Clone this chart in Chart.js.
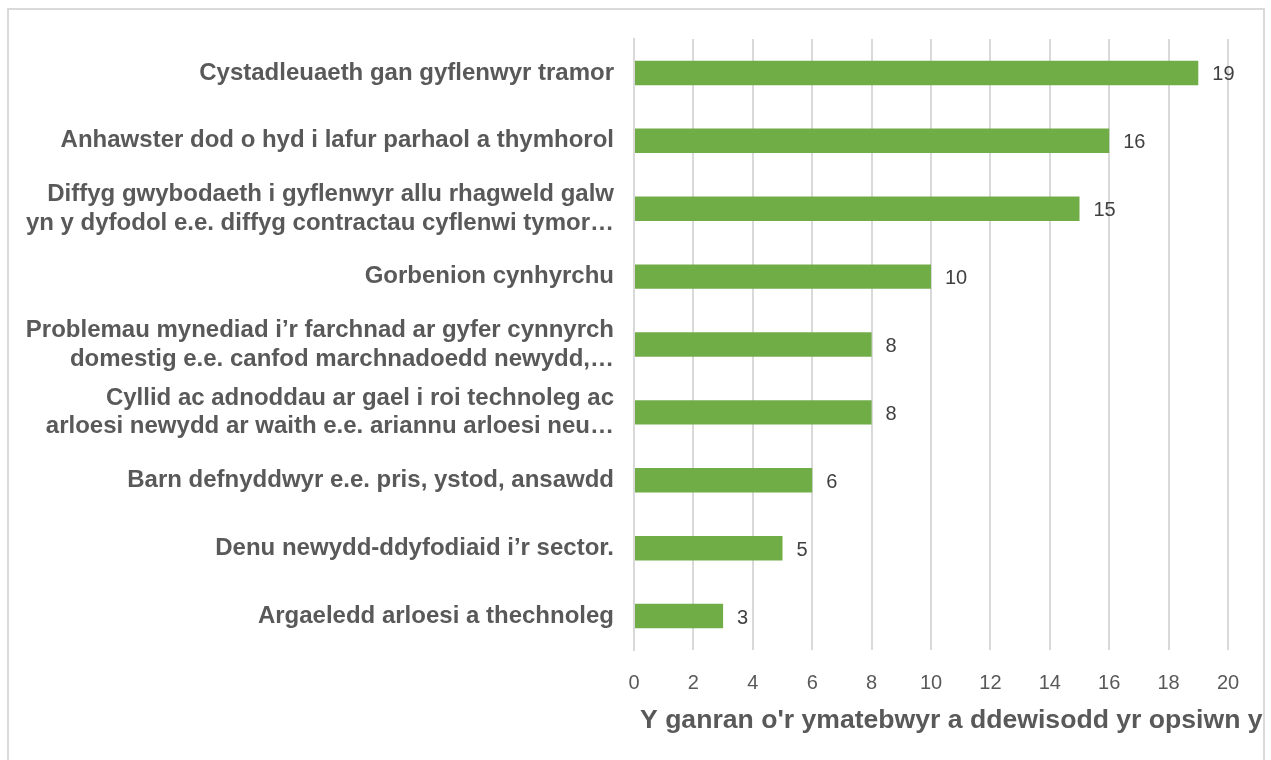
<!DOCTYPE html>
<html lang="cy">
  <head>
    <meta charset="UTF-8" />
    <title>Rhwystrau</title>
    <script src="https://cdn.jsdelivr.net/npm/chart.js"></script>
    <style>
      body { margin: 0; background: #fff; }
      #wrap { position: relative; width: 1271px; height: 760px; }
      #frame {
        position: absolute; left: 7px; top: 8px; width: 1258px; height: 770px;
        border: 2px solid #d9d9d9; box-sizing: border-box; pointer-events: none;
      }
    </style>
  </head>
  <body>
    <div id="wrap">
      <canvas id="barChart" width="1271" height="760"></canvas>
      <div id="frame"></div>
    </div>
    <script>
      const categories = [
        "Cystadleuaeth gan gyflenwyr tramor",
        "Anhawster dod o hyd i lafur parhaol a thymhorol",
        ["Diffyg gwybodaeth i gyflenwyr allu rhagweld galw", "yn y dyfodol e.e. diffyg contractau cyflenwi tymor…"],
        "Gorbenion cynhyrchu",
        ["Problemau mynediad i’r farchnad ar gyfer cynnyrch", "domestig e.e. canfod marchnadoedd newydd,…"],
        ["Cyllid ac adnoddau ar gael i roi technoleg ac", "arloesi newydd ar waith e.e. ariannu arloesi neu…"],
        "Barn defnyddwyr e.e. pris, ystod, ansawdd",
        "Denu newydd-ddyfodiaid i’r sector.",
        "Argaeledd arloesi a thechnoleg"
      ];
      const percentages = [19, 16, 15, 10, 8, 8, 6, 5, 3];
      const xTicks = [0, 2, 4, 6, 8, 10, 12, 14, 16, 18, 20];
      const xTitle = "Y ganran o'r ymatebwyr a ddewisodd yr opsiwn y";

      // value labels to the right of each bar
      const valueLabels = {
        id: "valueLabels",
        afterDatasetsDraw(chart) {
          const ctx = chart.ctx;
          ctx.save();
          ctx.font = "20px 'Liberation Sans', Arial, sans-serif";
          ctx.fillStyle = "#404040";
          ctx.textAlign = "left";
          ctx.textBaseline = "middle";
          chart.getDatasetMeta(0).data.forEach((bar, i) => {
            ctx.fillText(String(percentages[i]), bar.x + 14, bar.y + 2);
          });
          ctx.restore();
        }
      };

      // axis title runs past the plot like in the original (the built-in one gets squeezed)
      const axisTitle = {
        id: "axisTitle",
        afterDraw(chart) {
          const ctx = chart.ctx;
          const x = chart.scales.x;
          ctx.save();
          ctx.font = "bold 26.6px 'Liberation Sans', Arial, sans-serif";
          ctx.fillStyle = "#595959";
          ctx.textAlign = "left";
          ctx.textBaseline = "middle";
          ctx.fillText(xTitle, x.left + 6, x.bottom - 39);
          ctx.restore();
        }
      };

      new Chart(document.getElementById("barChart").getContext("2d"), {
        type: "bar",
        data: {
          labels: categories,
          datasets: [{
            data: percentages,
            backgroundColor: "#70ad47",
            borderWidth: 0,
            barPercentage: 0.36,
            categoryPercentage: 1
          }]
        },
        options: {
          indexAxis: "y",
          responsive: false,
          animation: false,
          layout: { padding: { top: 39, right: 43, left: 0, bottom: 0 } },
          plugins: { legend: { display: false }, tooltip: { enabled: false } },
          scales: {
            x: {
              min: 0,
              max: 20,
              afterBuildTicks: (s) => { s.ticks = xTicks.map((v) => ({ value: v })); },
              afterFit: (s) => { s.height = 110; },
              grid: { color: "#d9d9d9", lineWidth: 2, drawTicks: false },
              border: { display: false },
              ticks: {
                padding: 21,
                color: "#595959",
                font: { family: "'Liberation Sans', Arial, sans-serif", size: 20 }
              },
              title: { display: false }
            },
            y: {
              afterFit: (s) => { s.width = 634; },
              grid: { display: false, drawTicks: false },
              border: { display: true, color: "#d9d9d9", width: 2 },
              ticks: {
                padding: 20,
                color: "#595959",
                font: { family: "'Liberation Sans', Arial, sans-serif", size: 24, weight: "bold", lineHeight: 1.2 }
              }
            }
          }
        },
        plugins: [valueLabels, axisTitle]
      });
    </script>
  </body>
</html>
